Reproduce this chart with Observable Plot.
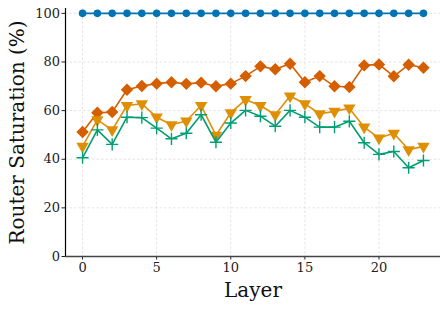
<!DOCTYPE html>
<html>
<head>
<meta charset="utf-8">
<script src="https://cdn.jsdelivr.net/npm/d3@7"></script>
<script src="https://cdn.jsdelivr.net/npm/@observablehq/plot@0.6"></script>
<style>
  html, body { margin: 0; padding: 0; background: #fff; }
  svg { display: block; }
</style>
</head>
<body>
<div id="chart"></div>
<script>
const layers = d3.range(0, 24);
const seriesBlue = Array(24).fill(100);
const seriesDiamond = [51.2, 59.1, 59.4, 68.6, 70.1, 71.1, 71.7, 71.0, 71.5, 70.0, 71.1, 74.2, 78.2, 77.0, 79.3, 71.7, 74.2, 70.0, 69.7, 78.6, 79.0, 74.1, 78.9, 77.6];
const seriesTriangle = [45.3, 56.2, 52.1, 62.1, 62.8, 57.3, 54.2, 55.7, 62.1, 49.8, 59.1, 64.5, 62.1, 58.3, 66.0, 62.8, 58.7, 59.7, 61.0, 53.2, 48.7, 50.7, 43.9, 45.3];
const seriesPlus = [40.6, 52.1, 46.1, 57.3, 57.1, 52.8, 48.4, 50.7, 58.3, 47.0, 54.9, 60.1, 57.7, 53.6, 60.1, 57.3, 53.2, 53.2, 55.6, 46.8, 42.0, 43.2, 36.5, 39.5];
const xTicks = [0, 5, 10, 15, 20];
const yTicks = [0, 20, 40, 60, 80, 100];
const xLabel = "Layer";
const yLabel = "Router Saturation (%)";

const mk = (vals) => layers.map((l, i) => ({layer: l, v: vals[i]}));
const dBlue = mk(seriesBlue), dDia = mk(seriesDiamond), dTri = mk(seriesTriangle), dPlus = mk(seriesPlus);

const cBlue = "#0173b2", cDia = "#d55e00", cTri = "#de8f05", cPlus = "#029e73";
const font = "DejaVu Serif";

const chart = Plot.plot({
  width: 448,
  height: 309,
  marginLeft: 65,
  marginRight: 8,
  marginTop: 8,
  marginBottom: 53,
  style: {fontFamily: font, background: "#fff", color: "#222"},
  x: {domain: [-1.15, 24.15]},
  y: {domain: [0, 102]},
  marks: [
    Plot.gridX(xTicks, {stroke: "#d4d4d4", strokeOpacity: 0.8, strokeDasharray: "2.5,2", strokeWidth: 0.8}),
    Plot.gridY(yTicks, {stroke: "#d4d4d4", strokeOpacity: 0.8, strokeDasharray: "2.5,2", strokeWidth: 0.8}),
    Plot.axisX(xTicks, {tickSize: 3.5, tickPadding: 3, fontSize: 13, label: null, stroke: "#222"}),
    Plot.axisY(yTicks, {tickSize: 3.5, tickPadding: 2, fontSize: 13, label: null, stroke: "#222"}),
    Plot.ruleY([0], {stroke: "#444", strokeWidth: 1.3}),
    Plot.ruleX([-1.15], {stroke: "#000", strokeWidth: 1.2}),
    Plot.text([xLabel], {frameAnchor: "bottom", textAnchor: "middle", dy: 40, fontSize: 20, fill: "#111"}),
    Plot.text([yLabel], {frameAnchor: "left", textAnchor: "middle", dx: -48, rotate: -90, fontSize: 20, fill: "#111"}),
    Plot.line(dBlue, {x: "layer", y: "v", stroke: cBlue, strokeWidth: 1.6}),
    Plot.dot(dBlue, {x: "layer", y: "v", fill: cBlue, r: 3.8, symbol: "circle"}),
    Plot.line(dDia, {x: "layer", y: "v", stroke: cDia, strokeWidth: 1.6}),
    Plot.dot(dDia, {x: "layer", y: "v", fill: cDia, r: 5.6, symbol: "diamond2"}),
    Plot.line(dTri, {x: "layer", y: "v", stroke: cTri, strokeWidth: 1.6}),
    Plot.dot(dTri, {x: "layer", y: "v", fill: cTri, r: 4.6, symbol: "triangle", rotate: 180}),
    Plot.line(dPlus, {x: "layer", y: "v", stroke: cPlus, strokeWidth: 1.6}),
    Plot.dot(dPlus, {x: "layer", y: "v", stroke: cPlus, r: 4, symbol: "plus", strokeWidth: 1.4})
  ]
});
document.getElementById("chart").appendChild(chart);
</script>
</body>
</html>
